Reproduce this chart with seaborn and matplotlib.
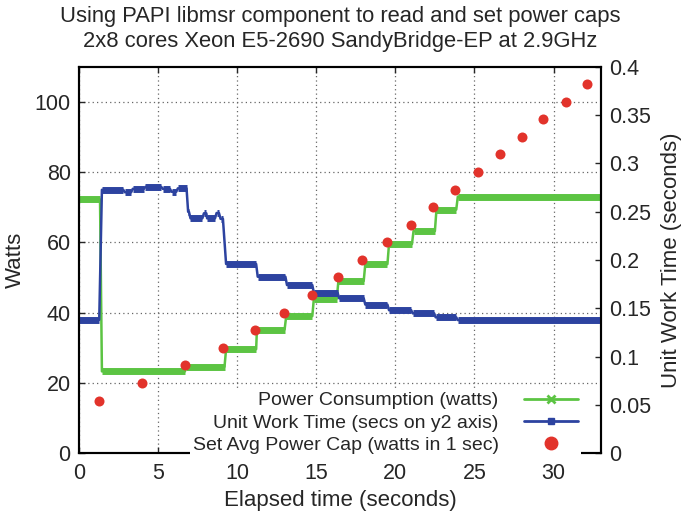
import pandas as pd
import seaborn as sns
import matplotlib.pyplot as plt
from matplotlib.lines import Line2D
from matplotlib.ticker import FuncFormatter, MultipleLocator

# power consumption plateaus (watts, left axis)
power_start = [0.0, 1.45, 6.75, 9.3, 11.25, 13.1, 14.85, 16.4, 18.1, 19.6, 21.15, 22.6, 23.95]
power_end = [1.33, 6.7, 9.2, 11.2, 13.0, 14.75, 16.3, 18.0, 19.5, 21.05, 22.5, 23.85, 33.0]
power_level = [72.2, 23.3, 24.6, 29.6, 35.2, 39.0, 44.0, 49.0, 53.8, 59.5, 63.2, 69.3, 73.0]

# unit work time plateaus (seconds, right axis)
work_start = [0.0, 1.45, 2.9, 3.4, 4.2, 5.3, 5.85, 6.25, 6.9, 7.05, 7.9, 8.1, 8.7, 8.95,
              9.3, 11.3, 13.15, 14.85, 16.45, 18.1, 19.6, 21.1, 22.55, 23.95]
work_end = [1.28, 2.8, 3.3, 4.1, 5.2, 5.75, 6.15, 6.8, 6.95, 7.8, 8.05, 8.6, 8.85, 9.1,
            11.2, 13.05, 14.75, 16.35, 18.0, 19.5, 21.0, 22.45, 23.85, 33.0]
work_level = [0.138, 0.2725, 0.2700, 0.2735, 0.2755, 0.2735, 0.2705, 0.2740, 0.2499, 0.2430,
              0.2482, 0.2430, 0.2485, 0.2425, 0.1958, 0.1826, 0.1740, 0.1660, 0.1603, 0.1538,
              0.1480, 0.1448, 0.1406, 0.1378]

# power cap set points
cap_time = [1.26, 3.98, 6.7, 9.12, 11.1, 12.96, 14.7, 16.35, 17.9, 19.5, 20.97, 22.4,
            23.8, 25.2, 26.6, 28.0, 29.35, 30.76, 32.1]
cap_watts = [15, 20, 25, 30, 35, 40, 45, 50, 55, 60, 65, 70, 75, 80, 85, 90, 95, 100, 105]

GREEN = "#5cc443"
BLUE = "#2d43a0"
RED = "#e2332b"


def plateaus(starts, ends, levels):
    rows = []
    for i, (s, e, v) in enumerate(zip(starts, ends, levels)):
        rows.append({"t": s, "v": v, "seg": i})
        rows.append({"t": e, "v": v, "seg": i})
    return pd.DataFrame(rows)


power_df = plateaus(power_start, power_end, power_level)
work_df = plateaus(work_start, work_end, work_level)
cap_df = pd.DataFrame({"t": cap_time, "w": cap_watts})

sns.set_style("ticks")
plt.rcParams["font.family"] = ["Liberation Sans", "DejaVu Sans"]
plt.rcParams["font.size"] = 15

fig, ax = plt.subplots(figsize=(6.82, 5.18), dpi=100)
fig.subplots_adjust(left=0.1158, right=0.8812, bottom=0.1249, top=0.8716)
ax2 = ax.twinx()
ax3 = ax.twinx()

# power: thin connectors + thick plateaus
sns.lineplot(data=power_df, x="t", y="v", estimator=None, sort=False,
             color=GREEN, lw=1.8, ax=ax, legend=False)
sns.lineplot(data=power_df, x="t", y="v", units="seg", estimator=None, sort=False,
             color=GREEN, lw=5, solid_capstyle="butt", ax=ax, legend=False)

# unit work time on y2
sns.lineplot(data=work_df, x="t", y="v", estimator=None, sort=False,
             color=BLUE, lw=1.8, ax=ax2, legend=False)
sns.lineplot(data=work_df, x="t", y="v", units="seg", estimator=None, sort=False,
             color=BLUE, lw=5, solid_capstyle="butt", ax=ax2, legend=False)

# power caps on top
sns.scatterplot(data=cap_df, x="t", y="w", color=RED, s=52, linewidth=0, ax=ax3, legend=False)

ax.set_xlim(0, 33)
ax.set_ylim(0, 110)
ax2.set_ylim(0, 0.4)
ax3.set_ylim(0, 110)

ax.xaxis.set_major_locator(MultipleLocator(5))
ax.yaxis.set_major_locator(MultipleLocator(20))
ax2.yaxis.set_major_locator(MultipleLocator(0.05))
ax2.yaxis.set_major_formatter(FuncFormatter(lambda v, p: f"{v:g}"))

ax.tick_params(axis="x", direction="in", length=4.5, width=1, top=True, labelsize=15.5, pad=7)
ax.tick_params(axis="y", direction="in", length=4.5, width=1, labelsize=15.5, pad=6)
ax2.tick_params(axis="y", direction="in", length=4.5, width=1, labelsize=15.5, pad=6)
ax3.axis("off")

for a in (ax, ax2):
    for sp in a.spines.values():
        sp.set_linewidth(1.5)
        sp.set_color("black")

ax.set_xlabel("Elapsed time (seconds)", fontsize=16, labelpad=4)
ax.set_ylabel("Watts", fontsize=16, labelpad=6)
ax2.set_ylabel("Unit Work Time (seconds)", fontsize=16, labelpad=7)
ax.set_title("Using PAPI libmsr component to read and set power caps\n"
             "2x8 cores Xeon E5-2690 SandyBridge-EP at 2.9GHz",
             fontsize=15.8, linespacing=1.25, pad=14)

handles = [
    Line2D([0], [0], color=GREEN, lw=2, marker="x", ms=6, mew=2),
    Line2D([0], [0], color=BLUE, lw=2, marker="s", ms=5),
    Line2D([0], [0], color=RED, lw=0, marker="o", ms=9),
]
labels = ["Power Consumption (watts)", "Unit Work Time (secs on y2 axis)",
          "Set Avg Power Cap (watts in 1 sec)"]
leg = ax3.legend(handles, labels, loc="lower right", bbox_to_anchor=(0.962, -0.01),
                 markerfirst=False, fontsize=14, handlelength=2.8, handletextpad=1.3,
                 labelspacing=0.25, borderpad=0.15, borderaxespad=0, frameon=True,
                 fancybox=False, framealpha=1)
leg.get_frame().set_edgecolor("none")
leg.get_frame().set_facecolor("white")

ax.set_axisbelow(True)
ax.xaxis.grid(True, linestyle=(0, (1, 2.5)), color="#666666", lw=0.9)
ax.yaxis.grid(True, linestyle=(0, (1, 2.5)), color="#666666", lw=0.9)

fig.savefig("out.png", dpi=100)
